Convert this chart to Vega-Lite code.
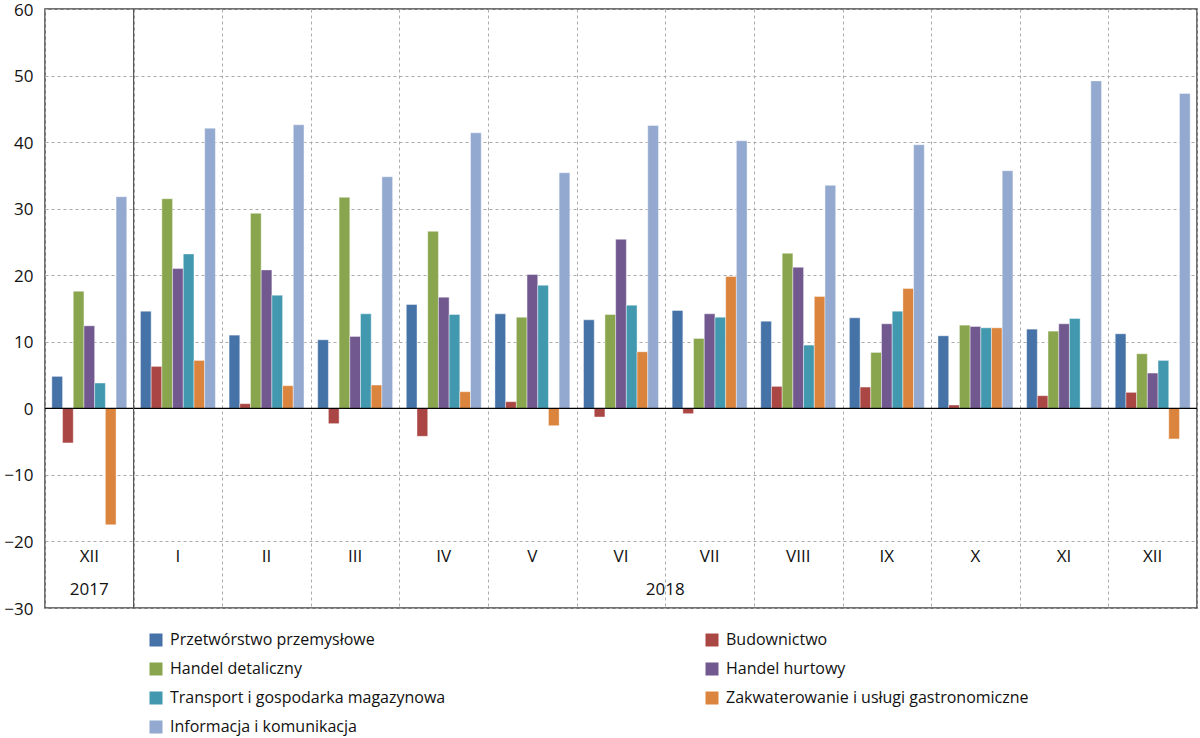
{
  "$schema": "https://vega.github.io/schema/vega-lite/v6.json",
  "width": 1152,
  "height": 599,
  "autosize": {"type": "none"},
  "padding": {"left": 45, "top": 9, "right": 3, "bottom": 130},
  "config": {"view": {"stroke": "#444", "strokeWidth": 1.5}, "font": "Open Sans"},
  "datasets": {
    "bars": [
      {"m": "2017-XII", "s": "Przetwórstwo przemysłowe", "v": 4.8},
      {"m": "2017-XII", "s": "Budownictwo", "v": -5.2},
      {"m": "2017-XII", "s": "Handel detaliczny", "v": 17.6},
      {"m": "2017-XII", "s": "Handel hurtowy", "v": 12.4},
      {"m": "2017-XII", "s": "Transport i gospodarka magazynowa", "v": 3.8},
      {"m": "2017-XII", "s": "Zakwaterowanie i usługi gastronomiczne", "v": -17.5},
      {"m": "2017-XII", "s": "Informacja i komunikacja", "v": 31.8},
      {"m": "2018-I", "s": "Przetwórstwo przemysłowe", "v": 14.6},
      {"m": "2018-I", "s": "Budownictwo", "v": 6.3},
      {"m": "2018-I", "s": "Handel detaliczny", "v": 31.5},
      {"m": "2018-I", "s": "Handel hurtowy", "v": 21.0},
      {"m": "2018-I", "s": "Transport i gospodarka magazynowa", "v": 23.2},
      {"m": "2018-I", "s": "Zakwaterowanie i usługi gastronomiczne", "v": 7.2},
      {"m": "2018-I", "s": "Informacja i komunikacja", "v": 42.1},
      {"m": "2018-II", "s": "Przetwórstwo przemysłowe", "v": 11.0},
      {"m": "2018-II", "s": "Budownictwo", "v": 0.7},
      {"m": "2018-II", "s": "Handel detaliczny", "v": 29.3},
      {"m": "2018-II", "s": "Handel hurtowy", "v": 20.8},
      {"m": "2018-II", "s": "Transport i gospodarka magazynowa", "v": 17.0},
      {"m": "2018-II", "s": "Zakwaterowanie i usługi gastronomiczne", "v": 3.4},
      {"m": "2018-II", "s": "Informacja i komunikacja", "v": 42.6},
      {"m": "2018-III", "s": "Przetwórstwo przemysłowe", "v": 10.3},
      {"m": "2018-III", "s": "Budownictwo", "v": -2.3},
      {"m": "2018-III", "s": "Handel detaliczny", "v": 31.7},
      {"m": "2018-III", "s": "Handel hurtowy", "v": 10.8},
      {"m": "2018-III", "s": "Transport i gospodarka magazynowa", "v": 14.2},
      {"m": "2018-III", "s": "Zakwaterowanie i usługi gastronomiczne", "v": 3.5},
      {"m": "2018-III", "s": "Informacja i komunikacja", "v": 34.8},
      {"m": "2018-IV", "s": "Przetwórstwo przemysłowe", "v": 15.6},
      {"m": "2018-IV", "s": "Budownictwo", "v": -4.2},
      {"m": "2018-IV", "s": "Handel detaliczny", "v": 26.6},
      {"m": "2018-IV", "s": "Handel hurtowy", "v": 16.7},
      {"m": "2018-IV", "s": "Transport i gospodarka magazynowa", "v": 14.1},
      {"m": "2018-IV", "s": "Zakwaterowanie i usługi gastronomiczne", "v": 2.5},
      {"m": "2018-IV", "s": "Informacja i komunikacja", "v": 41.4},
      {"m": "2018-V", "s": "Przetwórstwo przemysłowe", "v": 14.2},
      {"m": "2018-V", "s": "Budownictwo", "v": 1.0},
      {"m": "2018-V", "s": "Handel detaliczny", "v": 13.7},
      {"m": "2018-V", "s": "Handel hurtowy", "v": 20.1},
      {"m": "2018-V", "s": "Transport i gospodarka magazynowa", "v": 18.5},
      {"m": "2018-V", "s": "Zakwaterowanie i usługi gastronomiczne", "v": -2.6},
      {"m": "2018-V", "s": "Informacja i komunikacja", "v": 35.4},
      {"m": "2018-VI", "s": "Przetwórstwo przemysłowe", "v": 13.3},
      {"m": "2018-VI", "s": "Budownictwo", "v": -1.3},
      {"m": "2018-VI", "s": "Handel detaliczny", "v": 14.1},
      {"m": "2018-VI", "s": "Handel hurtowy", "v": 25.4},
      {"m": "2018-VI", "s": "Transport i gospodarka magazynowa", "v": 15.5},
      {"m": "2018-VI", "s": "Zakwaterowanie i usługi gastronomiczne", "v": 8.5},
      {"m": "2018-VI", "s": "Informacja i komunikacja", "v": 42.5},
      {"m": "2018-VII", "s": "Przetwórstwo przemysłowe", "v": 14.7},
      {"m": "2018-VII", "s": "Budownictwo", "v": -0.8},
      {"m": "2018-VII", "s": "Handel detaliczny", "v": 10.5},
      {"m": "2018-VII", "s": "Handel hurtowy", "v": 14.2},
      {"m": "2018-VII", "s": "Transport i gospodarka magazynowa", "v": 13.7},
      {"m": "2018-VII", "s": "Zakwaterowanie i usługi gastronomiczne", "v": 19.8},
      {"m": "2018-VII", "s": "Informacja i komunikacja", "v": 40.2},
      {"m": "2018-VIII", "s": "Przetwórstwo przemysłowe", "v": 13.1},
      {"m": "2018-VIII", "s": "Budownictwo", "v": 3.3},
      {"m": "2018-VIII", "s": "Handel detaliczny", "v": 23.3},
      {"m": "2018-VIII", "s": "Handel hurtowy", "v": 21.2},
      {"m": "2018-VIII", "s": "Transport i gospodarka magazynowa", "v": 9.5},
      {"m": "2018-VIII", "s": "Zakwaterowanie i usługi gastronomiczne", "v": 16.8},
      {"m": "2018-VIII", "s": "Informacja i komunikacja", "v": 33.5},
      {"m": "2018-IX", "s": "Przetwórstwo przemysłowe", "v": 13.6},
      {"m": "2018-IX", "s": "Budownictwo", "v": 3.2},
      {"m": "2018-IX", "s": "Handel detaliczny", "v": 8.4},
      {"m": "2018-IX", "s": "Handel hurtowy", "v": 12.7},
      {"m": "2018-IX", "s": "Transport i gospodarka magazynowa", "v": 14.6},
      {"m": "2018-IX", "s": "Zakwaterowanie i usługi gastronomiczne", "v": 18.0},
      {"m": "2018-IX", "s": "Informacja i komunikacja", "v": 39.6},
      {"m": "2018-X", "s": "Przetwórstwo przemysłowe", "v": 10.9},
      {"m": "2018-X", "s": "Budownictwo", "v": 0.5},
      {"m": "2018-X", "s": "Handel detaliczny", "v": 12.5},
      {"m": "2018-X", "s": "Handel hurtowy", "v": 12.3},
      {"m": "2018-X", "s": "Transport i gospodarka magazynowa", "v": 12.1},
      {"m": "2018-X", "s": "Zakwaterowanie i usługi gastronomiczne", "v": 12.1},
      {"m": "2018-X", "s": "Informacja i komunikacja", "v": 35.7},
      {"m": "2018-XI", "s": "Przetwórstwo przemysłowe", "v": 11.9},
      {"m": "2018-XI", "s": "Budownictwo", "v": 1.9},
      {"m": "2018-XI", "s": "Handel detaliczny", "v": 11.6},
      {"m": "2018-XI", "s": "Handel hurtowy", "v": 12.7},
      {"m": "2018-XI", "s": "Transport i gospodarka magazynowa", "v": 13.5},
      {"m": "2018-XI", "s": "Informacja i komunikacja", "v": 49.2},
      {"m": "2018-XII", "s": "Przetwórstwo przemysłowe", "v": 11.2},
      {"m": "2018-XII", "s": "Budownictwo", "v": 2.4},
      {"m": "2018-XII", "s": "Handel detaliczny", "v": 8.2},
      {"m": "2018-XII", "s": "Handel hurtowy", "v": 5.3},
      {"m": "2018-XII", "s": "Transport i gospodarka magazynowa", "v": 7.2},
      {"m": "2018-XII", "s": "Zakwaterowanie i usługi gastronomiczne", "v": -4.6},
      {"m": "2018-XII", "s": "Informacja i komunikacja", "v": 47.3}
    ],
    "months": [
      {"m": "2017-XII", "lab": "XII"},
      {"m": "2018-I", "lab": "I"},
      {"m": "2018-II", "lab": "II"},
      {"m": "2018-III", "lab": "III"},
      {"m": "2018-IV", "lab": "IV"},
      {"m": "2018-V", "lab": "V"},
      {"m": "2018-VI", "lab": "VI"},
      {"m": "2018-VII", "lab": "VII"},
      {"m": "2018-VIII", "lab": "VIII"},
      {"m": "2018-IX", "lab": "IX"},
      {"m": "2018-X", "lab": "X"},
      {"m": "2018-XI", "lab": "XI"},
      {"m": "2018-XII", "lab": "XII"}
    ]
  },
  "layer": [
    {
      "data": {"name": "bars"},
      "mark": {"type": "bar", "stroke": "white", "strokeWidth": 0.6, "strokeOpacity": 0.7},
      "encoding": {
        "x": {
          "field": "m", "type": "nominal",
          "scale": {"domain": ["2017-XII","2018-I","2018-II","2018-III","2018-IV","2018-V","2018-VI","2018-VII","2018-VIII","2018-IX","2018-X","2018-XI","2018-XII"], "paddingInner": 0, "paddingOuter": 0},
          "axis": {"title": null, "labels": false, "ticks": false, "domain": false, "grid": true, "tickBand": "extent", "gridDash": [3, 3], "gridColor": "#aaa", "gridWidth": 1}
        },
        "xOffset": {
          "field": "s", "type": "nominal",
          "scale": {"domain": ["Przetwórstwo przemysłowe","Budownictwo","Handel detaliczny","Handel hurtowy","Transport i gospodarka magazynowa","Zakwaterowanie i usługi gastronomiczne","Informacja i komunikacja"], "paddingInner": 0, "paddingOuter": 0.64}
        },
        "y": {
          "field": "v", "type": "quantitative",
          "scale": {"domain": [-30, 60], "nice": false},
          "axis": {"title": null, "values": [-30,-20,-10,0,10,20,30,40,50,60], "grid": true, "gridDash": [3, 3], "gridColor": "#aaa", "ticks": false, "domain": false, "labelFontSize": 17, "labelPadding": 12, "labelColor": "#111", "labelOffset": 1}
        },
        "color": {
          "field": "s", "type": "nominal",
          "scale": {
            "domain": ["Przetwórstwo przemysłowe","Handel detaliczny","Transport i gospodarka magazynowa","Informacja i komunikacja","Budownictwo","Handel hurtowy","Zakwaterowanie i usługi gastronomiczne"],
            "range": ["#4572A7","#89A54E","#4198AF","#93A9CF","#AA4643","#71588F","#DB843D"]
          },
          "legend": {
            "title": null, "orient": "none", "legendX": 103, "legendY": 623, "columns": 2, "columnPadding": 258, "rowPadding": 13,
            "symbolType": "square", "symbolSize": 169, "symbolStrokeWidth": 0, "labelFontSize": 16, "labelColor": "#111", "labelOffset": 6, "padding": 0, "labelLimit": 500
          }
        }
      }
    },
    {
      "data": {"values": [{}]},
      "mark": {"type": "rule", "color": "#000", "strokeWidth": 1.2},
      "encoding": {"y": {"datum": 0}}
    },
    {
      "data": {"values": [{"m": "2018-I"}]},
      "mark": {"type": "rule", "color": "#555", "strokeWidth": 1.2},
      "encoding": {"x": {"field": "m", "type": "nominal", "bandPosition": 0}}
    },
    {
      "data": {"name": "months"},
      "mark": {"type": "text", "fontSize": 17, "color": "#111", "baseline": "middle"},
      "encoding": {
        "x": {"field": "m", "type": "nominal"},
        "y": {"datum": -22.3},
        "text": {"field": "lab"}
      }
    },
    {
      "data": {"values": [{"m": "2017-XII", "t": "2017"}]},
      "mark": {"type": "text", "fontSize": 17, "color": "#111", "baseline": "middle"},
      "encoding": {
        "x": {"field": "m", "type": "nominal"},
        "y": {"datum": -27.3},
        "text": {"field": "t"}
      }
    },
    {
      "data": {"values": [{"m": "2018-VII", "t": "2018"}]},
      "mark": {"type": "text", "fontSize": 17, "color": "#111", "baseline": "middle"},
      "encoding": {
        "x": {"field": "m", "type": "nominal", "bandPosition": 0},
        "y": {"datum": -27.3},
        "text": {"field": "t"}
      }
    }
  ]
}
